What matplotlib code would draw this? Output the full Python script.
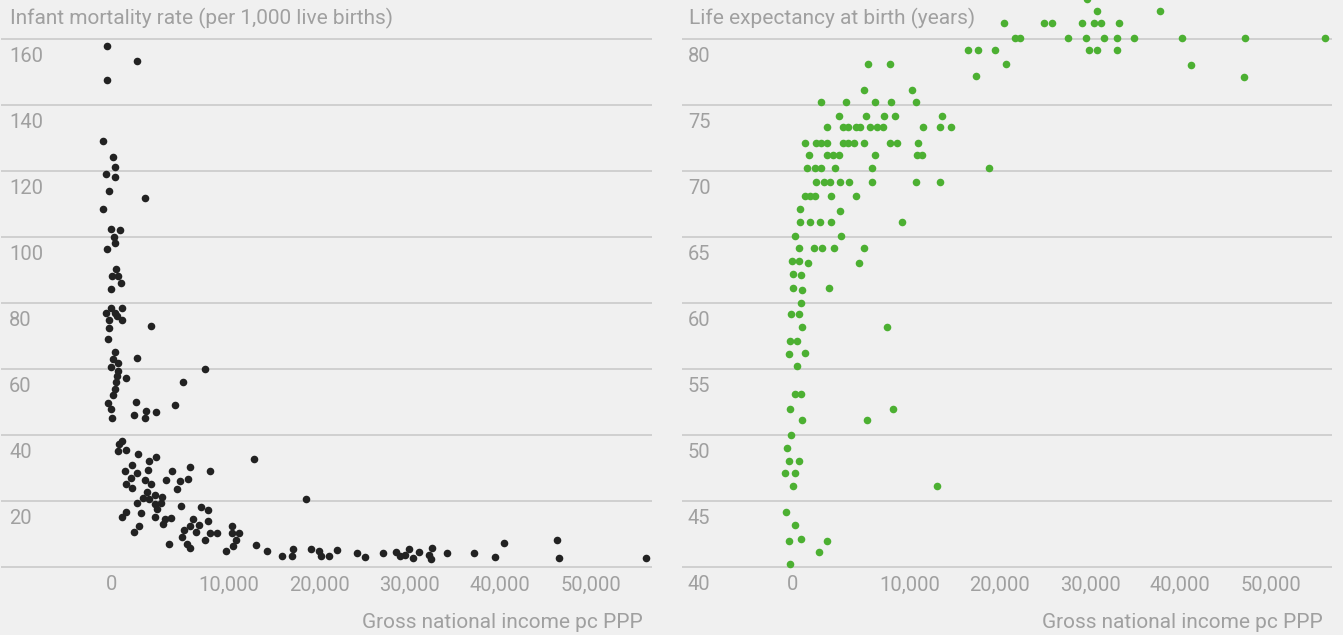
import matplotlib.pyplot as plt
import matplotlib.transforms as mtransforms
import numpy as np

plt.rcParams['font.family'] = 'Roboto'

# infant mortality (per 1,000 live births) against GNI per head, PPP
imr_gni = [-430, 2140, -430, -770, 90, 260, -510, 260, -260, 2820,
           -770, -90, 680, 170, 260, -430, 340, 0, 510, 770,
           -90, -90, 850, -510, 260, 430, -260, 850, 3330, -260,
           -340, 260, 2140, 90, 510, -90, 510, 430, 1200, 340,
           260, 90, -340, 2050, -90, 0, 1880, 2820, 2910, 3760,
           7950, 6070, 5390, 850, 600, 510, 1200, 2220, 3760, 3160,
           12760, 1710, 6670, 1110, 2140, 3080, 5130, 8380, 1620, 2820,
           4620, 5810, 6500, 1200, 1710, 3330, 5560, 2990, 3680, 2650,
           3160, 4270, 2140, 3680, 4190, 3850, 5900, 7610, 8210, 1200,
           850, 2480, 3680, 4530, 5040, 4360, 6920, 8210, 7440, 6670,
           2310, 1880, 6150, 7180, 8380, 8970, 10330, 10330, 11110, 5980,
           10770, 7950, 4870, 6410, 6670, 10440, 9740, 12980, 14200, 15860,
           17070, 16960, 18510, 19060, 19950, 20170, 21050, 21930, 24140, 25030,
           27020, 28450, 28900, 29450, 29890, 30330, 31000, 32430, 32100, 32320,
           34090, 37070, 39390, 40390, 46240, 46470, 56190]
imr = [157.9, 153.3, 147.6, 129.1, 124.2, 121.2, 119.1, 118.2, 113.9, 111.8,
       108.5, 102.4, 102.1, 100.0, 98.2, 96.4, 90.3, 88.2, 88.2, 86.1,
       84.2, 78.5, 78.5, 77.0, 77.0, 76.1, 74.8, 74.8, 73.0, 72.4,
       69.1, 65.2, 63.3, 63.0, 61.8, 60.6, 59.4, 57.9, 57.3, 56.1,
       53.9, 52.1, 49.7, 50.0, 47.9, 45.2, 46.1, 45.2, 47.3, 47.0,
       60.0, 56.1, 49.1, 38.2, 37.3, 35.2, 35.5, 34.2, 33.3, 32.1,
       32.7, 30.9, 30.3, 29.1, 28.5, 29.4, 29.1, 29.1, 27.0, 26.4,
       26.4, 26.1, 26.7, 25.2, 23.9, 25.2, 23.6, 22.7, 21.8, 20.9,
       20.6, 21.2, 19.4, 19.1, 19.4, 17.6, 18.5, 18.2, 17.3, 16.7,
       15.2, 16.4, 15.2, 14.5, 14.8, 13.0, 14.5, 13.9, 12.7, 12.4,
       12.4, 10.6, 11.2, 10.6, 10.3, 10.3, 12.4, 10.3, 10.3, 9.1,
       8.2, 8.2, 7.0, 7.0, 5.8, 6.4, 4.8, 6.7, 4.8, 3.3,
       5.5, 3.3, 20.6, 5.5, 4.8, 3.3, 3.3, 5.2, 4.2, 3.0,
       4.2, 4.5, 3.3, 3.6, 5.5, 2.7, 4.5, 5.8, 3.6, 2.4,
       4.2, 4.2, 3.0, 7.3, 8.2, 2.7, 2.7]

# life expectancy at birth (years) against GNI per head, PPP
life_gni = [29610, 30720, 37700, 20420, 24850, 25730, 29060, 30390, 31160, 33160,
            21630, 22190, 27510, 29500, 31500, 32940, 34820, 40140, 47120, 55980,
            16430, 17530, 19420, 29830, 30720, 32940, 20640, 41140, 17310, 47010,
            6470, 8280, 6120, 10220, 2410, 4570, 7070, 8450, 10670, 3970,
            6290, 7840, 8790, 13550, 2930, 4310, 4740, 5430, 5780, 6640,
            7240, 7760, 11440, 13320, 14540, 1030, 1980, 2410, 2930, 4310,
            4740, 5260, 6120, 8360, 8960, 10890, 1380, 2930, 3450, 3970,
            7070, 10780, 11330, 1210, 1900, 2410, 3620, 6810, 18750, 1980,
            2670, 3190, 4050, 4830, 6810, 10670, 13320, 1030, 1470, 1900,
            3280, 5430, 600, 4050, 600, 1470, 2330, 3280, 9310, 170,
            4140, 520, 1810, 2500, 3530, 6120, -90, 520, 1290, 5690,
            0, 690, 0, 780, 3100, 690, -170, 520, 780, 8100,
            -260, 350, -350, 1030, 350, 170, 690, -260, 8620, 780,
            6380, -170, -520, -350, 520, -690, 170, 0, 12990, -600,
            170, -350, 690, 2930, 2240, -260]
life = [83.0, 82.1, 82.1, 81.2, 81.2, 81.2, 81.2, 81.2, 81.2, 81.2,
        80.1, 80.1, 80.1, 80.1, 80.1, 80.1, 80.1, 80.1, 80.1, 80.1,
        79.2, 79.2, 79.2, 79.2, 79.2, 79.2, 78.1, 78.0, 77.2, 77.1,
        78.1, 78.1, 76.1, 76.1, 75.2, 75.2, 75.2, 75.2, 75.2, 74.2,
        74.2, 74.2, 74.2, 74.2, 73.3, 73.3, 73.3, 73.3, 73.3, 73.3,
        73.3, 73.3, 73.3, 73.3, 73.3, 72.1, 72.1, 72.1, 72.1, 72.1,
        72.1, 72.1, 72.1, 72.1, 72.1, 72.1, 71.2, 71.2, 71.2, 71.2,
        71.2, 71.2, 71.2, 70.2, 70.2, 70.2, 70.2, 70.2, 70.2, 69.2,
        69.2, 69.2, 69.2, 69.2, 69.2, 69.2, 69.2, 68.1, 68.1, 68.1,
        68.1, 68.1, 67.1, 67.0, 66.1, 66.1, 66.1, 66.1, 66.1, 65.1,
        65.1, 64.2, 64.2, 64.2, 64.2, 64.2, 63.2, 63.2, 63.0, 63.0,
        62.2, 62.1, 61.1, 61.0, 61.1, 60.0, 59.2, 59.2, 58.2, 58.2,
        57.1, 57.1, 56.1, 56.2, 55.2, 53.1, 53.1, 52.0, 52.0, 51.1,
        51.1, 50.0, 49.0, 48.0, 48.0, 47.1, 47.1, 46.1, 46.1, 44.2,
        43.2, 42.0, 42.1, 42.0, 41.1, 40.2]

gni_ticks = [0, 10000, 20000, 30000, 40000, 50000]
imr_ticks = [0, 20, 40, 60, 80, 100, 120, 140, 160]
life_ticks = [40, 45, 50, 55, 60, 65, 70, 75, 80]

bg = '#f0f0f0'
grey = '#a0a0a0'
fs_tick = 14.5
fs_text = 15


# income axis is stretched below 10,000
def fwd(x):
    x = np.asarray(x, dtype=float)
    return np.where(x < 10000, x * 1.293, x + 2930)


def inv(y):
    y = np.asarray(y, dtype=float)
    return np.where(y < 12930, y / 1.293, y - 2930)


W, H = 1343, 635
fig = plt.figure(figsize=(W / 100, H / 100), dpi=100, facecolor=bg)
ax1 = fig.add_axes([1 / W, 60 / H, 651 / W, 575 / H])
ax2 = fig.add_axes([682 / W, 60 / H, 650 / W, 575 / H])


def setup(ax, yticks, ylim, first_label, dx):
    ax.set_facecolor(bg)
    ax.set_xscale('function', functions=(fwd, inv))
    ax.set_xlim(-9500, 56800)
    ax.set_ylim(*ylim)
    ax.set_xticks(gni_ticks, [f'{t:,}' for t in gni_ticks])
    ax.set_yticks(yticks)
    ax.tick_params(axis='x', length=0, pad=0.3, labelsize=fs_tick, labelcolor=grey)
    ax.tick_params(axis='y', length=0, labelleft=False)
    ax.grid(axis='y', color='#cdcdcd', lw=1.3)
    ax.set_axisbelow(True)
    for s in ax.spines.values():
        s.set_visible(False)
    # y labels sit just under their gridline
    off = mtransforms.ScaledTranslation(dx / 100, -23 / 100, fig.dpi_scale_trans)
    tr = mtransforms.blended_transform_factory(ax.transAxes, ax.transData) + off
    for t in yticks:
        if t == yticks[0] and not first_label:
            continue
        ax.text(0, t, str(t), transform=tr, fontsize=fs_tick, color=grey,
                ha='left', va='baseline')


setup(ax1, imr_ticks, (-8 / 3.3, 567 / 3.3), False, 8)
setup(ax2, life_ticks, (40 - 8 / 13.2, 40 + 567 / 13.2), True, 6)

ax1.scatter(imr_gni, imr, s=30, color='#222222', lw=0, clip_on=False, zorder=3)
ax2.scatter(life_gni, life, s=30, color='#4cb032', lw=0, clip_on=False, zorder=3)

fig.text(10 / W, 1 - 24 / H, 'Infant mortality rate (per 1,000 live births)',
         fontsize=fs_text, color=grey, ha='left', va='baseline')
fig.text(689 / W, 1 - 24 / H, 'Life expectancy at birth (years)',
         fontsize=fs_text, color=grey, ha='left', va='baseline')
fig.text(643 / W, 1 - 628 / H, 'Gross national income pc PPP',
         fontsize=fs_text, color=grey, ha='right', va='baseline')
fig.text(1323 / W, 1 - 628 / H, 'Gross national income pc PPP',
         fontsize=fs_text, color=grey, ha='right', va='baseline')

fig.savefig('out.png', dpi=100, facecolor=bg)
